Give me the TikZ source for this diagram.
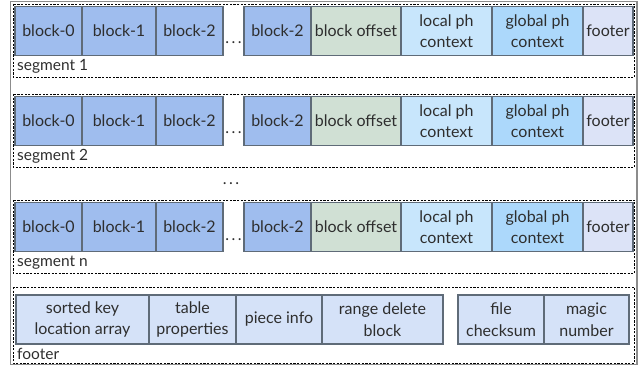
\documentclass[tikz,border=0pt]{standalone}
\usepackage{fontspec}
\setmainfont{Lato}
\usetikzlibrary{positioning}
\definecolor{BlockBlue}{HTML}{9FBDEE}
\definecolor{OffsetGreen}{HTML}{D0E0D4}
\definecolor{LocalBlue}{HTML}{C8E6FC}
\definecolor{GlobalBlue}{HTML}{ACD8FB}
\definecolor{FootBlue}{HTML}{DCE3F7}
\definecolor{MetaBlue}{HTML}{D5E2F8}
\definecolor{Edge}{HTML}{5F6B78}
\definecolor{Ink}{HTML}{2E2E2E}

\begin{document}
\begin{tikzpicture}
[x=1pt,y=-1pt,node distance=0pt,
blk/.style={draw=Edge,line width=1.1pt,outer sep=0pt,inner sep=0pt,
  minimum height=49pt,text=Ink,font=\fontsize{16}{21.5}\selectfont,align=center},
gapdots/.style={outer sep=0pt,inner sep=0pt,minimum height=49pt,minimum width=21pt,
  text=Ink,font=\fontsize{16}{21.5}\selectfont},
frame/.style={draw=black,line width=0.8pt,dash pattern=on 2.2pt off 1.4pt},
outer/.style={draw=black!45,line width=1.1pt},
lbl/.style={anchor=west,inner sep=0pt,text=Ink,font=\fontsize{15.5}{17}\selectfont}
]
\useasboundingbox (0,0) rectangle (644,366);
%% whole file
\draw[outer] (10.5,1.5) rectangle (637,364.5);
%% segments
\foreach \seg/\top in {1/4,2/94,n/200}{
\begin{scope}[shift={(0,\top)}]
\draw[frame] (13,0) rectangle (634.5,73);
\node[blk,fill=BlockBlue,minimum width=67pt,anchor=north west] (b0) at (15,2.5) {block-0};
\node[blk,fill=BlockBlue,minimum width=74pt,right=of b0] (b1) {block-1};
\node[blk,fill=BlockBlue,minimum width=67pt,right=of b1] (b2) {block-2};
\node[gapdots,right=of b2] (dots) {\raisebox{-13pt}[0pt][0pt]{.\hspace{2.5pt}.\hspace{2.5pt}.}};
\node[blk,fill=BlockBlue,minimum width=67pt,right=of dots] (bk) {block-2};
\node[blk,fill=OffsetGreen,minimum width=90pt,right=of bk] (offset) {block offset};
\node[blk,fill=LocalBlue,minimum width=91pt,right=of offset] (local) {local ph\\context};
\node[blk,fill=GlobalBlue,minimum width=91pt,right=of local] (global) {global ph\\context};
\node[blk,fill=FootBlue,minimum width=50pt,right=of global] (segfooter) {footer};
\node[lbl] (seglbl) at (17,62.5) {segment \seg};
\end{scope}
}
%% between segments
\node[text=Ink,font=\fontsize{16}{17}\selectfont] (middots) at (231,184) {.\hspace{2.5pt}.\hspace{2.5pt}.};
%% footer
\begin{scope}[shift={(0,287)}]
\draw[frame] (13,0) rectangle (634.5,76);
\node[blk,fill=MetaBlue,minimum width=133pt,anchor=north west] (sortedkey) at (16,8) {sorted key\\location array};
\node[blk,fill=MetaBlue,minimum width=87pt,right=of sortedkey] (props) {table\\properties};
\node[blk,fill=MetaBlue,minimum width=86pt,right=of props] (piece) {piece info};
\node[blk,fill=MetaBlue,minimum width=121pt,right=of piece] (rangedel) {range delete\\block};
\node[blk,fill=MetaBlue,minimum width=86pt,right=15pt of rangedel] (checksum) {file\\checksum};
\node[blk,fill=MetaBlue,minimum width=85pt,right=of checksum] (magic) {magic\\number};
\node[lbl] (footlbl) at (17,67) {footer};
\end{scope}
\end{tikzpicture}
\end{document}
